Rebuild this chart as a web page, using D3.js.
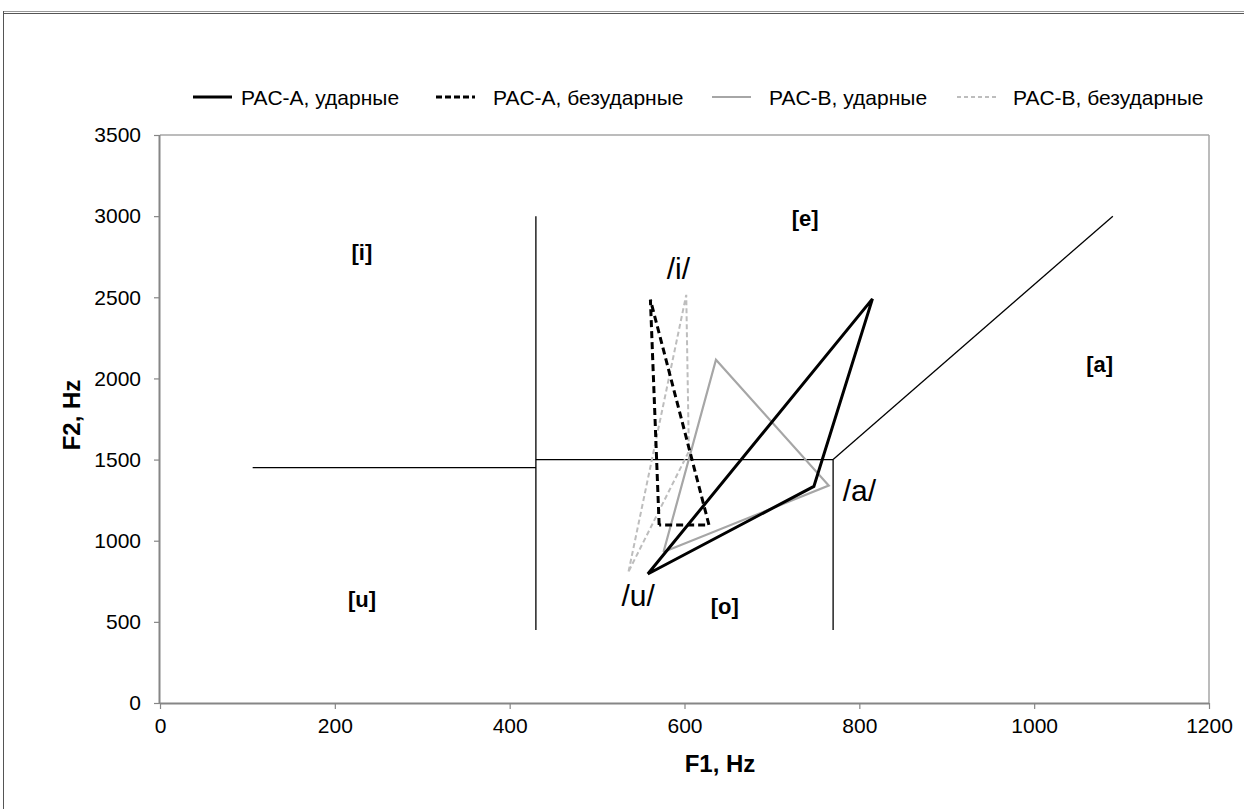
<!DOCTYPE html>
<html><head><meta charset="utf-8">
<script src="https://cdn.jsdelivr.net/npm/d3@7"></script>
<style>body{margin:0;background:#fff}svg{display:block}text{font-family:"Liberation Sans",Arial,sans-serif}</style>
</head><body>
<svg id="c" width="1244" height="809"></svg>
<script>
// ---- data ----
const xTicks = [0,200,400,600,800,1000,1200];
const yTicks = [0,500,1000,1500,2000,2500,3000,3500];
const seriesNames = ["PAC-A, ударные","PAC-A, безударные","PAC-B, ударные","PAC-B, безударные"];
// vowel triangles: [F1, F2] for /u/, /i/, /a/ (closed)
const pacAStressed   = [[558,795],[815,2490],[748,1335],[558,795]];
const pacAUnstressed = [[571,1097],[561,2485],[628,1097],[571,1097]];
const pacBStressed   = [[576,930],[636,2115],[765,1340],[576,930]];
const pacBUnstressed = [[536,810],[602,2515],[605,1550],[536,810]];
// boundary lines between vowel zones
const boundaries = [
  [[106,1450],[430,1450]],
  [[430,3000],[430,450]],
  [[430,1500],[770,1500]],
  [[770,1500],[770,450]],
  [[770,1500],[1090,3000]]
];
const zoneLabels = [["[i]",231,2779],["[e]",738,2988],["[a]",1075,2087],["[u]",231,635],["[o]",646,592]];
const vowelLabels = [["/i/",593,2680],["/a/",800,1312],["/u/",547,665]];

// ---- drawing ----
const svg = d3.select("#c");
const x = d3.scaleLinear().domain([0,1200]).range([160,1209]);
const y = d3.scaleLinear().domain([0,3500]).range([703,135]);

// outer frame
svg.append("line").attr("x1",3).attr("x2",1244).attr("y1",11.5).attr("y2",11.5).attr("stroke","#9a9a9a").attr("stroke-width",1);
svg.append("line").attr("x1",3).attr("x2",1244).attr("y1",13.5).attr("y2",13.5).attr("stroke","#555").attr("stroke-width",1.2);
svg.append("line").attr("x1",3.5).attr("x2",3.5).attr("y1",11).attr("y2",809).attr("stroke","#555").attr("stroke-width",1);

// plot border top/right
svg.append("line").attr("x1",x(0)).attr("x2",x(1200)).attr("y1",y(3500)).attr("y2",y(3500)).attr("stroke","#a6a6a6").attr("stroke-width",1.5);
svg.append("line").attr("x1",x(1200)).attr("x2",x(1200)).attr("y1",y(3500)).attr("y2",y(0)).attr("stroke","#a6a6a6").attr("stroke-width",1.5);

// axes
const gx = svg.append("g").attr("transform",`translate(0,${y(0)})`)
  .call(d3.axisBottom(x).tickValues(xTicks).tickSize(6).tickPadding(9).tickFormat(d3.format("d")));
const gy = svg.append("g").attr("transform",`translate(${x(0)},0)`)
  .call(d3.axisLeft(y).tickValues(yTicks).tickSize(6).tickPadding(13).tickFormat(d3.format("d")));
[gx,gy].forEach(g=>{
  g.select(".domain").attr("stroke","#868686").attr("stroke-width",2);
  g.selectAll(".tick line").attr("stroke","#868686").attr("stroke-width",1.2);
  g.selectAll(".tick text").attr("fill","#000").style("font-size","21px").style("font-family","Liberation Sans, Arial, sans-serif");
});
gx.select(".domain").attr("d",`M${x(0)},0.5H${x(1200)}`);
gy.select(".domain").attr("d",`M-0.5,${y(0)}V${y(3500)}`);

// axis titles
svg.append("text").attr("x",720).attr("y",772).attr("text-anchor","middle")
  .style("font-size","24px").style("font-weight","bold").text("F1, Hz");
svg.append("text").attr("transform",`translate(80,415) rotate(-90)`).attr("text-anchor","middle")
  .style("font-size","24px").style("font-weight","bold").text("F2, Hz");

const line = d3.line().x(d=>x(d[0])).y(d=>y(d[1]));

// boundaries
svg.append("g").selectAll("path").data(boundaries).join("path")
  .attr("d",line).attr("fill","none").attr("stroke","#000").attr("stroke-width",1.3);

// series
const styles = [
  {data:pacBUnstressed,color:"#bdbdbd",w:2,dash:"5,3"},
  {data:pacBStressed,color:"#a6a6a6",w:2.2,dash:null},
  {data:pacAUnstressed,color:"#000",w:3,dash:"7,4"},
  {data:pacAStressed,color:"#000",w:3,dash:null}
];
styles.forEach(s=>{
  svg.append("path").datum(s.data).attr("d",line).attr("fill","none")
    .attr("stroke",s.color).attr("stroke-width",s.w).attr("stroke-linejoin","miter")
    .attr("stroke-dasharray",s.dash);
});

// zone labels
svg.append("g").selectAll("text").data(zoneLabels).join("text")
  .attr("x",d=>x(d[1])).attr("y",d=>y(d[2])).attr("text-anchor","middle").attr("dominant-baseline","central")
  .style("font-size","22px").style("font-weight","bold").text(d=>d[0]);
// vowel labels
svg.append("g").selectAll("text").data(vowelLabels).join("text")
  .attr("x",d=>x(d[1])).attr("y",d=>y(d[2])).attr("text-anchor","middle").attr("dominant-baseline","central")
  .style("font-size","30px").text(d=>d[0]);

// legend
const legStyles = [
  {color:"#000",w:3,dash:null,x:193,tx:241},
  {color:"#000",w:3,dash:"6,3",x:436,tx:493},
  {color:"#a6a6a6",w:2.2,dash:null,x:712,tx:769},
  {color:"#bdbdbd",w:2,dash:"4,3",x:957,tx:1013}
];
const lg = svg.append("g");
seriesNames.forEach((n,i)=>{
  const s = legStyles[i];
  lg.append("line").attr("x1",s.x).attr("x2",s.x+39).attr("y1",97).attr("y2",97)
    .attr("stroke",s.color).attr("stroke-width",s.w).attr("stroke-dasharray",s.dash);
  lg.append("text").attr("x",s.tx).attr("y",97).attr("dominant-baseline","central")
    .style("font-size","21px").text(n);
});
</script>
</body></html>
